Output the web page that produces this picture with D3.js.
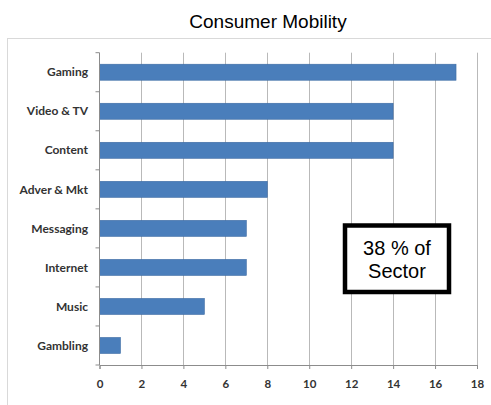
<!DOCTYPE html>
<html>
<head>
<meta charset="utf-8">
<script src="https://cdn.jsdelivr.net/npm/d3@7"></script>
<style>
  body { margin: 0; background: #fff; }
</style>
</head>
<body>
<div id="chart"></div>
<script>
// data
const categories = ['Gaming', 'Video & TV', 'Content', 'Adver & Mkt', 'Messaging', 'Internet', 'Music', 'Gambling'];
const values = [17, 14, 14, 8, 7, 7, 5, 1];
const xTicks = [0, 2, 4, 6, 8, 10, 12, 14, 16, 18];
const title = 'Consumer Mobility';
const noteLines = ['38 % of', 'Sector'];

const width = 491;
const height = 405;
const plot = { left: 99.5, right: 477, top: 52.7, bottom: 365 };

const svg = d3.select('#chart')
    .append('svg')
    .attr('width', width)
    .attr('height', height);

// outer chart frame (runs off the picture on the right and bottom)
svg.append('rect')
    .attr('x', 7.5)
    .attr('y', 38.5)
    .attr('width', 500)
    .attr('height', 400)
    .attr('fill', 'none')
    .attr('stroke', '#d9d9d9');

svg.append('text')
    .attr('x', 268)
    .attr('y', 28)
    .attr('text-anchor', 'middle')
    .style('font-family', 'Liberation Sans, Arial, sans-serif')
    .style('font-size', '19px')
    .text(title);

const x = d3.scaleLinear()
    .domain([0, 18])
    .range([plot.left, plot.right]);

const y = d3.scaleBand()
    .domain(categories)
    .range([plot.top, plot.bottom])
    .paddingInner(0.59)
    .paddingOuter(0.295);

// vertical gridlines
svg.append('g')
    .selectAll('line')
    .data(xTicks.slice(1))
    .enter().append('line')
    .attr('x1', d => Math.round(x(d)) + 0.5)
    .attr('x2', d => Math.round(x(d)) + 0.5)
    .attr('y1', plot.top)
    .attr('y2', plot.bottom)
    .attr('stroke', '#b9b9b9')
    .attr('stroke-width', 1);

// bars
svg.append('g')
    .selectAll('rect')
    .data(categories)
    .enter().append('rect')
    .attr('x', x(0))
    .attr('y', d => y(d))
    .attr('width', (d, i) => x(values[i]) - x(0))
    .attr('height', y.bandwidth())
    .attr('fill', '#4a7ebb')
    .attr('stroke', '#3d6ba3')
    .attr('stroke-width', 0.6);

// x axis
const xAxis = svg.append('g')
    .attr('transform', `translate(0, ${plot.bottom})`)
    .call(d3.axisBottom(x).tickValues(xTicks).tickSize(4).tickPadding(11));
xAxis.select('.domain').attr('stroke', '#8c8c8c');
xAxis.selectAll('.tick line').attr('stroke', '#8c8c8c');
xAxis.selectAll('.tick text')
    .style('font-family', 'Lato, sans-serif')
    .style('font-weight', 'bold')
    .style('font-size', '11.5px')
    .attr('fill', '#333');

// y axis: ticks sit on the band boundaries, labels in the band centres
const bounds = d3.range(categories.length + 1).map(i => plot.top + y.step() * i);
const yAxis = svg.append('g');
yAxis.append('line')
    .attr('x1', plot.left)
    .attr('x2', plot.left)
    .attr('y1', plot.top)
    .attr('y2', plot.bottom)
    .attr('stroke', '#8c8c8c');
yAxis.selectAll('line.tick')
    .data(bounds)
    .enter().append('line')
    .attr('class', 'tick')
    .attr('x1', plot.left - 4)
    .attr('x2', plot.left)
    .attr('y1', d => d)
    .attr('y2', d => d)
    .attr('stroke', '#8c8c8c');
yAxis.selectAll('text')
    .data(categories)
    .enter().append('text')
    .attr('x', 88)
    .attr('y', d => y(d) + y.bandwidth() / 2)
    .attr('dy', '0.35em')
    .attr('text-anchor', 'end')
    .style('font-family', 'Lato, sans-serif')
    .style('font-weight', 'bold')
    .style('font-size', '12px')
    .attr('fill', '#333')
    .text(d => d);

// note box
const note = svg.append('g');
note.append('rect')
    .attr('x', 345)
    .attr('y', 225.5)
    .attr('width', 104)
    .attr('height', 66.5)
    .attr('fill', '#fff')
    .attr('stroke', '#000')
    .attr('stroke-width', 4.5);
note.selectAll('text')
    .data(noteLines)
    .enter().append('text')
    .attr('x', 397)
    .attr('y', (d, i) => 255 + i * 23)
    .attr('text-anchor', 'middle')
    .style('font-family', 'Liberation Sans, Arial, sans-serif')
    .style('font-size', '20px')
    .text(d => d);
</script>
</body>
</html>
